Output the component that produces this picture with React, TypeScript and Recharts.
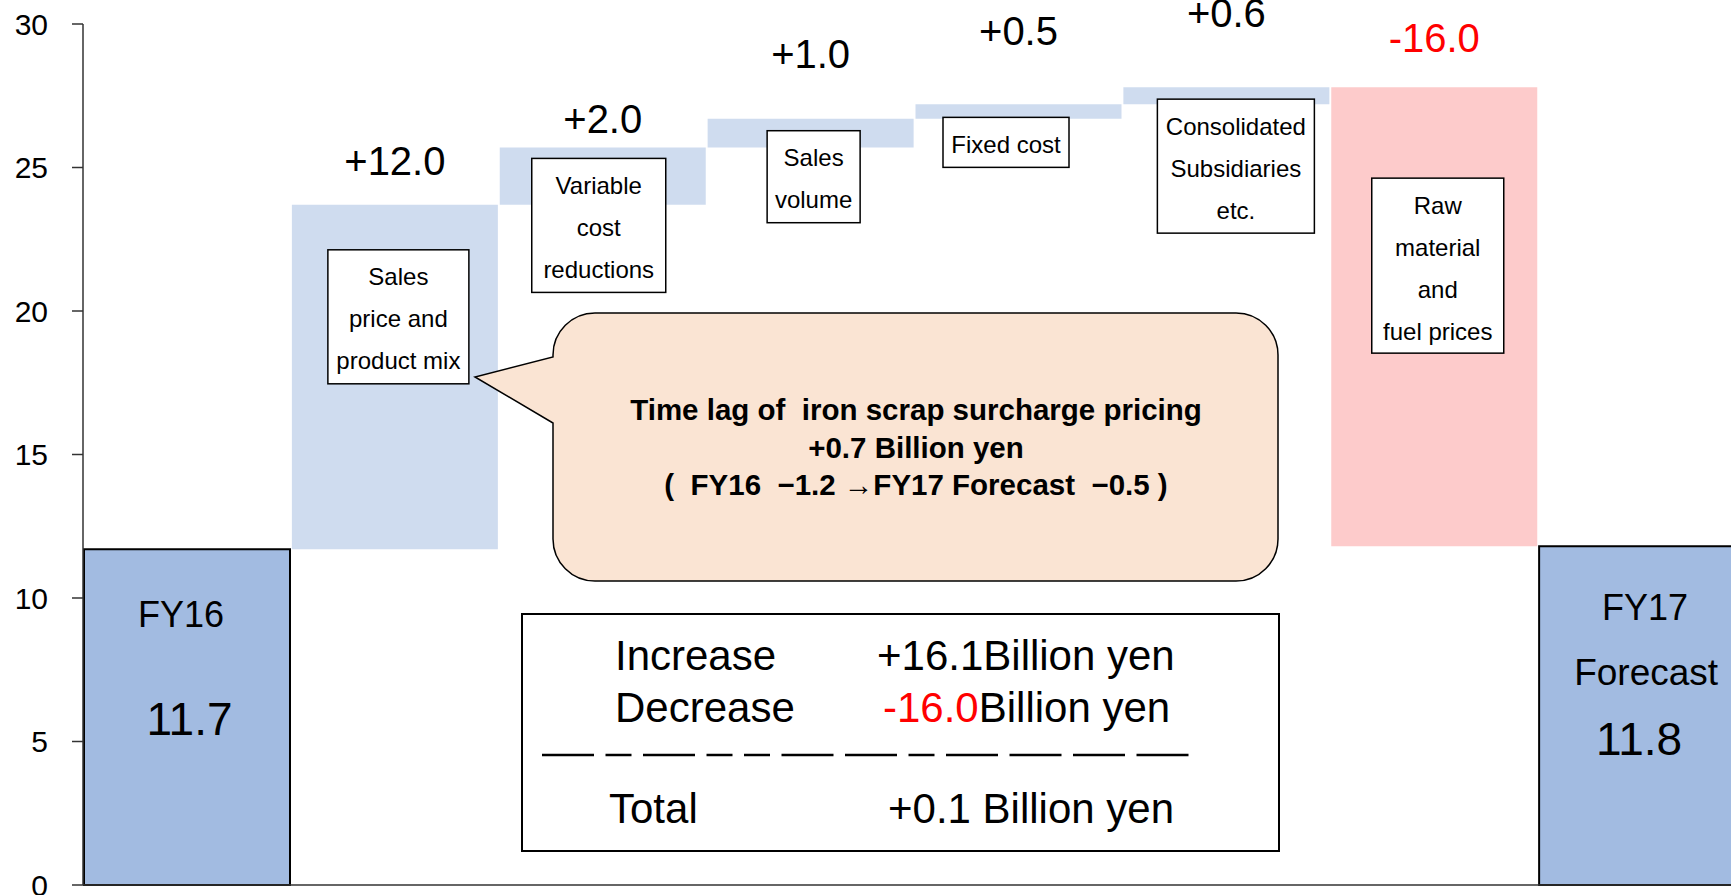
import { BarChart, Bar, XAxis, YAxis, Cell, LabelList } from 'recharts';

// waterfall steps, FY16 -> FY17 forecast (billion yen)
const categories = [
  'FY16',
  'Sales price and product mix',
  'Variable cost reductions',
  'Sales volume',
  'Fixed cost',
  'Consolidated Subsidiaries etc.',
  'Raw material and fuel prices',
  'FY17 Forecast',
];
const barLow = [0, 11.7, 23.7, 25.7, 26.7, 27.2, 11.8, 0];
const barHigh = [11.7, 23.7, 25.7, 26.7, 27.2, 27.8, 27.8, 11.8];
const barKind = ['total', 'up', 'up', 'up', 'up', 'up', 'down', 'total'];
const changeLabels = ['', '+12.0', '+2.0', '+1.0', '+0.5', '+0.6', '-16.0', ''];
const boxLines = [
  [],
  ['Sales', 'price and', 'product mix'],
  ['Variable', 'cost', 'reductions'],
  ['Sales', 'volume'],
  ['Fixed cost'],
  ['Consolidated', 'Subsidiaries', 'etc.'],
  ['Raw', 'material', 'and', 'fuel prices'],
  [],
];
const totalLines = [['FY16', '11.7'], [], [], [], [], [], [], ['FY17', 'Forecast', '11.8']];
const yTicks = [0, 5, 10, 15, 20, 25, 30];

const calloutLines = [
  'Time lag of  iron scrap surcharge pricing',
  '+0.7 Billion yen',
  '(  FY16  \u22121.2 \u2192FY17 Forecast  \u22120.5 )',
];
const summaryRows = [
  { name: 'Increase', value: '+16.1', unit: 'Billion yen' },
  { name: 'Decrease', value: '-16.0', unit: 'Billion yen' },
  { name: 'Total', value: '+0.1', unit: ' Billion yen' },
];
const dashPattern = ['L', 'S', 'L', 'S', 'S', 'L', 'L', 'S', 'L', 'L', 'L', 'L'];

const FONT = '"Liberation Sans", Arial, sans-serif';
const RED = '#FF0000';
const COLORS: Record<string, string> = { total: '#A2BBE1', up: '#CFDCEF', down: '#FDCBCB' };

// layout of hand-placed annotations, relative to each bar
const LABEL_GAP = [0, 30, 14, 51, 59, 60, 35, 0];
const BOX = [
  null,
  { dx: 3.5, top: 45, w: 141, h: 134 },
  { dx: -4, top: 11, w: 134, h: 134 },
  { dx: 3, top: 12, w: 93, h: 92 },
  { dx: -12.5, top: 13, w: 126, h: 50 },
  { dx: 9.5, top: 12, w: 157, h: 134 },
  { dx: 3.5, top: 91, w: 132, h: 175 },
  null,
];
const TOTAL_TEXT = [
  [{ dx: -6, dy: 65, size: 36 }, { dx: 2.5, dy: 170, size: 46 }],
  [], [], [], [], [], [],
  [{ dx: 3, dy: 61, size: 36 }, { dx: 4, dy: 126, size: 37 }, { dx: -3, dy: 193, size: 46 }],
];

const data = categories.map((name, i) => ({ name, range: [barLow[i], barHigh[i]] }));

function ChangeLabel(props: any) {
  const vb = props.viewBox ?? props;
  const i = props.index;
  const text = changeLabels[i];
  if (!text) return null;
  return (
    <text
      x={vb.x + vb.width / 2}
      y={vb.y - LABEL_GAP[i]}
      textAnchor="middle"
      fontSize={40}
      fontFamily={FONT}
      fill={barKind[i] === 'down' ? RED : '#000'}
    >
      {text}
    </text>
  );
}

function BoxLabel(props: any) {
  const vb = props.viewBox ?? props;
  const i = props.index;
  const b = BOX[i];
  if (!b) return null;
  const cx = vb.x + vb.width / 2 + b.dx;
  const top = vb.y + b.top;
  return (
    <g>
      <rect x={cx - b.w / 2} y={top} width={b.w} height={b.h} fill="#fff" stroke="#000" strokeWidth={1.5} />
      {boxLines[i].map((line, k) => (
        <text
          key={k}
          x={cx}
          y={top + 27 + k * 42}
          textAnchor="middle"
          dominantBaseline="central"
          fontSize={24}
          fontFamily={FONT}
          fill="#000"
        >
          {line}
        </text>
      ))}
    </g>
  );
}

function TotalLabel(props: any) {
  const vb = props.viewBox ?? props;
  const i = props.index;
  const lines = totalLines[i];
  if (!lines.length) return null;
  const cx = vb.x + vb.width / 2;
  return (
    <g>
      {lines.map((line, k) => {
        const t = TOTAL_TEXT[i][k];
        return (
          <text
            key={k}
            x={cx + t.dx}
            y={vb.y + t.dy}
            textAnchor="middle"
            dominantBaseline="central"
            fontSize={t.size}
            fontFamily={FONT}
            fill="#000"
          >
            {line}
          </text>
        );
      })}
    </g>
  );
}

function Annotations() {
  // speech bubble
  const x0 = 553, y0 = 313, x1 = 1278, y1 = 581, r = 42;
  const bubble =
    `M ${x0 + r} ${y0} H ${x1 - r} A ${r} ${r} 0 0 1 ${x1} ${y0 + r} V ${y1 - r} ` +
    `A ${r} ${r} 0 0 1 ${x1 - r} ${y1} H ${x0 + r} A ${r} ${r} 0 0 1 ${x0} ${y1 - r} ` +
    `V 423 L 475 377 L ${x0} 357 V ${y0 + r} A ${r} ${r} 0 0 1 ${x0 + r} ${y0} Z`;
  const calloutBase = [420, 458, 495];

  // summary box
  const rowBase = [670, 722, 823];
  const nameX = [615, 615, 609];
  const valueX = [877, 883, 888];
  let dx = 542;
  const dashes = dashPattern.map((p) => {
    const len = p === 'L' ? 52 : 26;
    const seg = { x: dx, len };
    dx += len + 11.5;
    return seg;
  });

  return (
    <svg
      width={1731}
      height={895}
      style={{ position: 'absolute', left: 0, top: 0, pointerEvents: 'none' }}
    >
      <path d={bubble} fill="#FAE4D3" stroke="#000" strokeWidth={1.5} />
      {calloutLines.map((line, k) => (
        <text
          key={k}
          x={916}
          y={calloutBase[k]}
          textAnchor="middle"
          fontSize={29.5}
          fontWeight="bold"
          fontFamily={FONT}
          fill="#000"
          style={{ whiteSpace: 'pre' }}
        >
          {line}
        </text>
      ))}

      <rect x={522} y={614} width={757} height={237} fill="#fff" stroke="#000" strokeWidth={2} />
      {summaryRows.map((row, k) => (
        <g key={k} fontSize={42} fontFamily={FONT}>
          <text x={nameX[k]} y={rowBase[k]} fill="#000">{row.name}</text>
          <text x={valueX[k]} y={rowBase[k]} style={{ whiteSpace: 'pre' }}>
            <tspan fill={row.value.startsWith('-') ? RED : '#000'}>{row.value}</tspan>
            <tspan fill="#000">{row.unit}</tspan>
          </text>
        </g>
      ))}
      {dashes.map((d, k) => (
        <line key={k} x1={d.x} x2={d.x + d.len} y1={755} y2={755} stroke="#000" strokeWidth={2.5} />
      ))}
    </svg>
  );
}

export default function App() {
  return (
    <div
      style={{
        position: 'fixed',
        left: 0,
        top: 0,
        width: 1731,
        height: 895,
        overflow: 'hidden',
        background: '#fff',
      }}
    >
      <BarChart
        width={1767}
        height={895}
        data={data}
        margin={{ top: 24, right: 21, left: 0, bottom: 0 }}
        barCategoryGap={1}
      >
        <XAxis
          dataKey="name"
          tick={false}
          tickLine={false}
          height={10}
          axisLine={{ stroke: '#333', strokeWidth: 1.5 }}
        />
        <YAxis
          domain={[0, 30]}
          ticks={yTicks}
          interval={0}
          width={83}
          tickSize={11}
          tickMargin={24}
          axisLine={{ stroke: '#333', strokeWidth: 1.5 }}
          tickLine={{ stroke: '#333', strokeWidth: 1.5 }}
          tick={{ fontSize: 30, fill: '#000', fontFamily: FONT }}
        />
        <Bar dataKey="range" isAnimationActive={false}>
          {data.map((_, i) => (
            <Cell
              key={i}
              fill={COLORS[barKind[i]]}
              stroke={barKind[i] === 'total' ? '#000' : 'none'}
              strokeWidth={barKind[i] === 'total' ? 2 : 0}
            />
          ))}
          <LabelList dataKey="range" content={ChangeLabel} />
          <LabelList dataKey="range" content={BoxLabel} />
          <LabelList dataKey="range" content={TotalLabel} />
        </Bar>
      </BarChart>
      <Annotations />
    </div>
  );
}
